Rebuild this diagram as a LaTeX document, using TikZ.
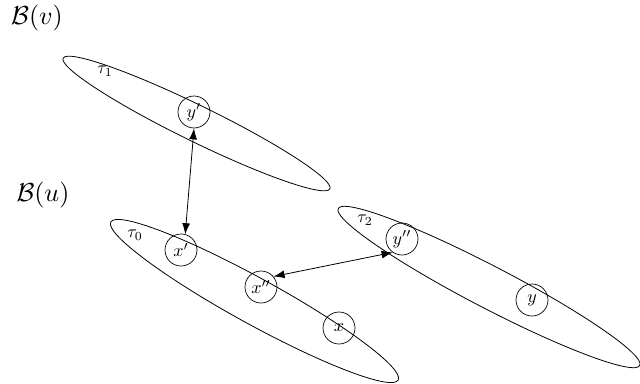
\documentclass[tikz,border=0pt]{standalone}
\usepackage{graphicx}
\usepackage{amsmath}
\usetikzlibrary{arrows.meta}
\newcommand{\vtxt}[1]{\scalebox{1.8}{$#1$}}
\newcommand{\ttxt}[1]{\scalebox{1.75}{$#1$}}
\newcommand{\btxt}[1]{\scalebox{2.6}{$#1$}}
\begin{document}
\begin{tikzpicture}[x=1pt,y=-1pt,
  vert/.style={draw,circle,line width=0.7pt,minimum size=32pt,inner sep=0pt},
  setell/.style={draw,line width=0.8pt},
  tlab/.style={inner sep=0pt},
  blab/.style={inner sep=0pt},
  link/.style={line width=0.8pt,{Latex[length=11pt,width=8pt]}-{Latex[length=11pt,width=8pt]}}]
\useasboundingbox (0,0) rectangle (640,383);
% sets
\draw[setell] (196.5,123.5) ellipse[x radius=148.5, y radius=18, rotate=-26.1];
\draw[setell] (254.5,301) ellipse[x radius=164, y radius=23, rotate=-28.8];
\draw[setell] (489,287) ellipse[x radius=170, y radius=21, rotate=-27.5];
% labels
\node[blab] (bv) at (37,18) {\btxt{\mathcal{B}(v)}};
\node[blab] (bu) at (43,195) {\btxt{\mathcal{B}(u)}};
\node[tlab] (t1) at (105,71) {\ttxt{\tau_1}};
\node[tlab] (t0) at (135,235) {\ttxt{\tau_0}};
\node[tlab] (t2) at (365,220) {\ttxt{\tau_2}};
% vertices
\node[vert] (yp) at (194,112) {\vtxt{y'}};
\node[vert] (xp) at (181,250) {\vtxt{x'}};
\node[vert] (xpp) at (261,287) {\vtxt{x''}};
\node[vert] (x) at (339,328) {\vtxt{x}};
\node[vert] (ypp) at (402,239) {\vtxt{y''}};
\node[vert] (y) at (532,300) {\vtxt{y}};
% links
\draw[link] (yp.south) -- (xp.75);
\draw[link] (xpp.40) -- (ypp.235);
\end{tikzpicture}
\end{document}
